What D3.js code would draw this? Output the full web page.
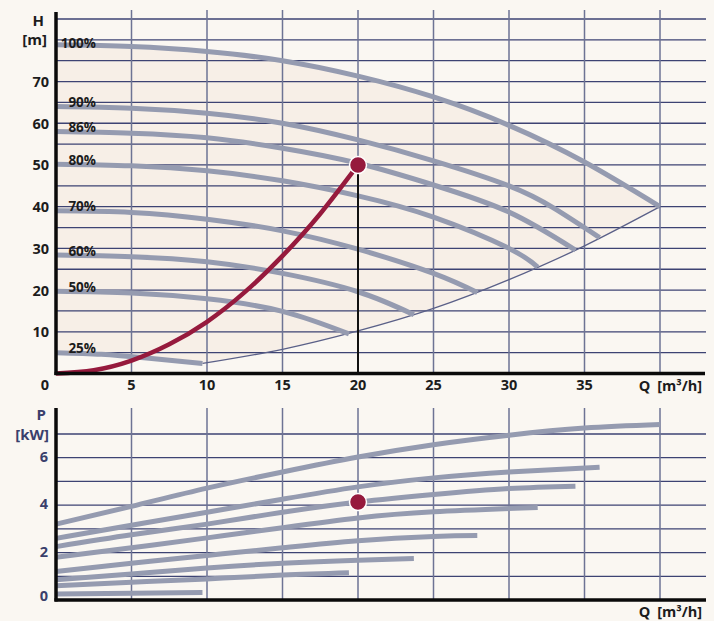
<!DOCTYPE html>
<html>
<head>
<meta charset="utf-8">
<script src="https://cdn.jsdelivr.net/npm/d3@7"></script>
<style>
  body { margin: 0; background: #faf7f2; }
  svg { display: block; font-family: "Open Sans", "Noto Sans", sans-serif; }
</style>
</head>
<body>
<div id="container"></div>
<script>
// pump curves, Q in m3/h, H in m, P in kW
const speeds = ["100%", "90%", "86%", "80%", "70%", "60%", "50%", "25%"];

const h100 = [[0, 78.8], [5, 78.4], [10, 77.2], [15, 75], [20, 71.3], [25, 66.3], [30, 59.5], [35, 50.7], [40, 40]];
const h90 = [[0, 64], [5, 63.6], [10, 62.4], [15, 60], [20, 56], [25, 51], [30, 45], [33, 39.6], [36, 32.6]];
const h86 = [[0, 58], [5, 57.6], [10, 56.5], [15, 54], [20, 50.4], [25, 45.2], [30, 38.7], [34.4, 29.6]];
const h80 = [[0, 50.2], [5, 49.8], [10, 48.6], [15, 46.2], [20, 42.6], [25, 37.5], [30, 30], [31.9, 25.5]];
const h70 = [[0, 39], [5, 38.6], [10, 37], [15, 34.2], [20, 29.8], [25, 24], [27.9, 19.4]];
const h60 = [[0, 28.4], [5, 28], [10, 26.8], [15, 24], [20, 19.6], [23.7, 14.1]];
const h50 = [[0, 19.7], [5, 19.3], [10, 17.9], [15, 14.9], [19.4, 9.5]];
const h25 = [[0, 5], [3, 4.6], [6, 3.7], [9.7, 2.4]];

const p100 = [[0, 3.2], [5, 3.95], [10, 4.72], [15, 5.4], [20, 6.03], [25, 6.55], [30, 6.95], [35, 7.25], [40, 7.4]];
const p90 = [[0, 2.6], [5, 3.15], [10, 3.7], [15, 4.25], [20, 4.77], [25, 5.15], [30, 5.4], [36, 5.6]];
const p86 = [[0, 2.25], [5, 2.75], [10, 3.2], [15, 3.7], [20, 4.13], [25, 4.45], [30, 4.7], [34.4, 4.8]];
const p80 = [[0, 1.8], [5, 2.2], [10, 2.62], [15, 3.05], [20, 3.46], [25, 3.72], [31.9, 3.9]];
const p70 = [[0, 1.2], [5, 1.55], [10, 1.88], [15, 2.2], [20, 2.5], [25, 2.68], [27.9, 2.72]];
const p60 = [[0, 0.85], [5, 1.1], [10, 1.35], [15, 1.55], [20, 1.68], [23.7, 1.75]];
const p50 = [[0, 0.6], [5, 0.75], [10, 0.89], [15, 1.05], [19.4, 1.15]];
const p25 = [[0, 0.25], [5, 0.28], [9.7, 0.32]];

// system curve (end points of the speed curves) and duty curve
const systemCurve = [[9.7, 2.4], [15, 5.8], [20, 10.2], [25, 15.6], [30, 22.5], [35, 30.6], [40, 40]];
const dutyCurve = [[0, 0], [2.5, 0.8], [5, 3.1], [7.5, 7], [10, 12.4], [12.5, 19.5], [15, 28.2], [17.5, 38.3], [20, 50]];
const dutyPoint = [20, 50];
const dutyPower = [20, 4.13];

const qTicks = [0, 5, 10, 15, 20, 25, 30, 35];
const hTicks = [10, 20, 30, 40, 50, 60, 70];
const pTicks = [0, 2, 4, 6];

const headCurves = [h100, h90, h86, h80, h70, h60, h50, h25];
const powerCurves = [p100, p90, p86, p80, p70, p60, p50, p25];

const W = 714, H = 621;
const gridRight = 706;

const x = d3.scaleLinear().domain([0, 40]).range([56, 660]);
const yH = d3.scaleLinear().domain([0, 85]).range([373.5, 19]);
const yP = d3.scaleLinear().domain([0, 7]).range([600, 434]);

const svg = d3.select("#container").append("svg")
  .attr("width", W)
  .attr("height", H);

svg.append("rect").attr("width", W).attr("height", H).attr("fill", "#faf7f2");

const lineH = d3.line().x(d => x(d[0])).y(d => yH(d[1])).curve(d3.curveNatural);
const lineP = d3.line().x(d => x(d[0])).y(d => yP(d[1])).curve(d3.curveNatural);

// shaded operating range
const shade = lineH(h100) +
  lineH(systemCurve.slice().reverse()).replace(/^M/, "L") +
  lineH(h25.slice().reverse()).replace(/^M/, "L") + "Z";
svg.append("path").attr("d", shade).attr("fill", "#f7efe7");

// ---- grid, head chart
const gTop = svg.append("g");
gTop.selectAll("line.h")
  .data(d3.range(5, 86, 5))
  .enter().append("line")
  .attr("x1", x(0)).attr("x2", gridRight)
  .attr("y1", d => yH(d)).attr("y2", d => yH(d))
  .attr("stroke", "#3d4373").attr("stroke-width", 1.3);
gTop.selectAll("line.v")
  .data(d3.range(5, 41, 5))
  .enter().append("line")
  .attr("x1", d => x(d)).attr("x2", d => x(d))
  .attr("y1", 10).attr("y2", yH(0))
  .attr("stroke", "#6d7394").attr("stroke-width", 1.5);

// ---- grid, power chart
const gBot = svg.append("g");
gBot.selectAll("line.h")
  .data(d3.range(1, 8))
  .enter().append("line")
  .attr("x1", x(0)).attr("x2", gridRight)
  .attr("y1", d => yP(d)).attr("y2", d => yP(d))
  .attr("stroke", "#3d4373").attr("stroke-width", 1.3);
gBot.selectAll("line.v")
  .data(d3.range(5, 41, 5))
  .enter().append("line")
  .attr("x1", d => x(d)).attr("x2", d => x(d))
  .attr("y1", 408).attr("y2", yP(0))
  .attr("stroke", "#6d7394").attr("stroke-width", 1.5);

// system curve
svg.append("path")
  .attr("d", lineH(systemCurve))
  .attr("fill", "none").attr("stroke", "#5a6088").attr("stroke-width", 1.3);

// speed curves
svg.selectAll("path.head")
  .data(headCurves)
  .enter().append("path")
  .attr("d", lineH)
  .attr("fill", "none").attr("stroke", "#959bb0").attr("stroke-width", 5);

svg.selectAll("path.power")
  .data(powerCurves)
  .enter().append("path")
  .attr("d", lineP)
  .attr("fill", "none").attr("stroke", "#959bb0").attr("stroke-width", 5);

// duty curve and point
svg.append("line")
  .attr("x1", x(dutyPoint[0])).attr("x2", x(dutyPoint[0]))
  .attr("y1", yH(dutyPoint[1])).attr("y2", yH(0))
  .attr("stroke", "#111").attr("stroke-width", 2);
svg.append("path")
  .attr("d", lineH(dutyCurve))
  .attr("fill", "none").attr("stroke", "#961a3d").attr("stroke-width", 4.5);
svg.append("circle")
  .attr("cx", x(dutyPoint[0])).attr("cy", yH(dutyPoint[1])).attr("r", 8.5)
  .attr("fill", "#961a3d").attr("stroke", "#fff").attr("stroke-width", 1.5);
svg.append("circle")
  .attr("cx", x(dutyPower[0])).attr("cy", yP(dutyPower[1])).attr("r", 8.5)
  .attr("fill", "#961a3d").attr("stroke", "#fff").attr("stroke-width", 1.5);

// axes
const axisLines = [
  [x(0), 12, x(0), yH(0) + 1.5],
  [x(0) - 1.5, yH(0), 705, yH(0)],
  [x(0), 408, x(0), yP(0) + 1.5],
  [x(0) - 1.5, yP(0), 706, yP(0)]
];
svg.selectAll("line.axis")
  .data(axisLines)
  .enter().append("line")
  .attr("x1", d => d[0]).attr("y1", d => d[1])
  .attr("x2", d => d[2]).attr("y2", d => d[3])
  .attr("stroke", "#0a0a0a").attr("stroke-width", 3.5);

// curve labels
svg.selectAll("text.speed")
  .data(speeds)
  .enter().append("text")
  .attr("x", 96)
  .attr("y", (d, i) => yH(headCurves[i][0][1]) + (i === 0 ? 3 : 0.5))
  .attr("text-anchor", "end")
  .attr("font-size", 13.5).attr("font-weight", 700).attr("fill", "#1c1c1c")
  .text(d => d);

// tick labels, head chart
svg.selectAll("text.ht")
  .data(hTicks)
  .enter().append("text")
  .attr("x", 49).attr("y", d => yH(d) + 5.5)
  .attr("text-anchor", "end")
  .attr("font-size", 14.5).attr("font-weight", 700).attr("fill", "#1c1c1c")
  .text(d => d);

svg.selectAll("text.qt")
  .data(qTicks)
  .enter().append("text")
  .attr("x", d => d === 0 ? 45 : x(d)).attr("y", 390)
  .attr("text-anchor", "middle")
  .attr("font-size", 14.5).attr("font-weight", 700).attr("fill", "#1c1c1c")
  .text(d => d);

svg.append("text").attr("x", 44).attr("y", 26).attr("text-anchor", "end")
  .attr("font-size", 15).attr("font-weight", 700).attr("fill", "#1c1c1c").text("H");
svg.append("text").attr("x", 47).attr("y", 45).attr("text-anchor", "end")
  .attr("font-size", 15).attr("font-weight", 700).attr("fill", "#1c1c1c").text("[m]");
svg.append("text").attr("x", 702).attr("y", 391).attr("text-anchor", "end")
  .attr("font-size", 14.5).attr("font-weight", 700).attr("fill", "#1c1c1c")
  .attr("word-spacing", 3).text("Q [m³/h]");

// tick labels, power chart
svg.selectAll("text.pt")
  .data(pTicks)
  .enter().append("text")
  .attr("x", 48).attr("y", d => Math.min(yP(d) + 4, 601))
  .attr("text-anchor", "end")
  .attr("font-size", 14.5).attr("font-weight", 700).attr("fill", "#3a3f6b")
  .text(d => d);

svg.append("text").attr("x", 46).attr("y", 420).attr("text-anchor", "end")
  .attr("font-size", 15).attr("font-weight", 700).attr("fill", "#3a3f6b").text("P");
svg.append("text").attr("x", 49).attr("y", 440).attr("text-anchor", "end")
  .attr("font-size", 15).attr("font-weight", 700).attr("fill", "#3a3f6b").text("[kW]");
svg.append("text").attr("x", 702).attr("y", 617).attr("text-anchor", "end")
  .attr("font-size", 14.5).attr("font-weight", 700).attr("fill", "#1c1c1c")
  .attr("word-spacing", 3).text("Q [m³/h]");
</script>
</body>
</html>
